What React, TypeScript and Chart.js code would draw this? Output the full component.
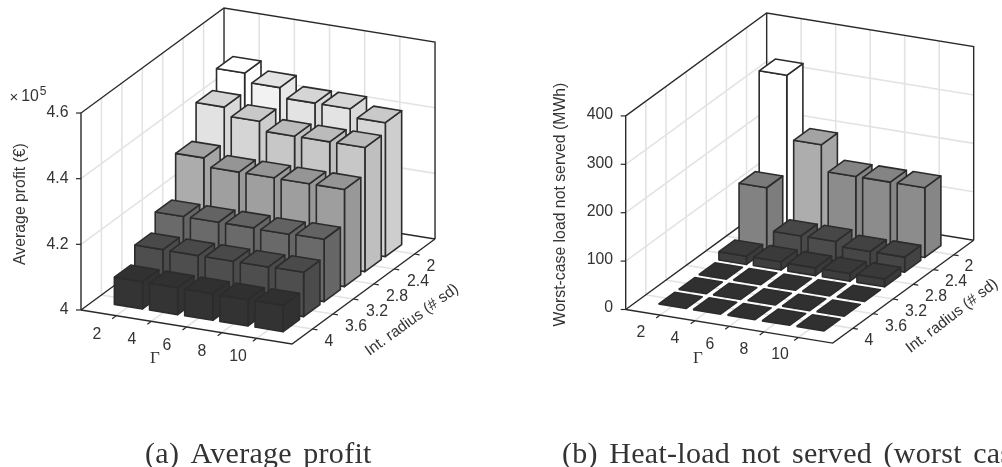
import React, { useEffect, useRef } from "react";
import { Chart, registerables } from "chart.js";

Chart.register(...registerables);

const gammaLabels = ["2", "4", "6", "8", "10"];
const radiusLabels = ["2", "2.4", "2.8", "3.2", "3.6", "4"];
const profitTicks = [4, 4.2, 4.4, 4.6];
const heatTicks = [0, 100, 200, 300, 400];

// rows: radius 2 → 4, columns: Γ 2 → 10
const profitR2 = [4.49, 4.463, 4.433, 4.433, 4.408];
const profitR24 = [4.432, 4.406, 4.378, 4.378, 4.378];
const profitR28 = [4.323, 4.297, 4.297, 4.296, 4.296];
const profitR32 = [4.19, 4.19, 4.19, 4.188, 4.19];
const profitR36 = [4.135, 4.134, 4.134, 4.134, 4.135];
const profitR4 = [4.083, 4.082, 4.081, 4.08, 4.08];

const heatR2 = [330, 198, 144, 144, 144];
const heatR24 = [128, 40, 40, 31, 31];
const heatR28 = [17, 17, 16, 16, 16];
const heatR32 = [0, 0, 0, 0, 0];
const heatR36 = [0, 0, 0, 0, 0];
const heatR4 = [0, 0, 0, 0, 0];

const profitRows = [profitR2, profitR24, profitR28, profitR32, profitR36, profitR4];
const heatRows = [heatR2, heatR24, heatR28, heatR32, heatR36, heatR4];

type Pt = { x: number; y: number };
type Plot = {
  ax: number; ay: number; ux: number; uy: number; wx: number; wy: number;
  zPx: number; zMin: number; zMax: number; rows: number[][]; ticks: number[];
  cMin: number; cMax: number;
};

const W = 1002;
const H = 467;

const plotA: Plot = {
  ax: 81, ay: 310, ux: 35.17, uy: 5.67, wx: 20.43, wy: -15,
  zPx: 328.3, zMin: 4, zMax: 4.6, rows: profitRows, ticks: profitTicks, cMin: 4.08, cMax: 4.49,
};
const plotB: Plot = {
  ax: 625.7, ay: 309.5, ux: 34.5, uy: 5.6, wx: 20.14, wy: -14.7,
  zPx: 0.484, zMin: 0, zMax: 400, rows: heatRows, ticks: heatTicks, cMin: 0, cMax: 330,
};

const GRID = "#e3e3e3";
const AXIS = "#2a2a2a";
const EDGE = "#2c2c2c";

function gray(v: number, k: number) {
  const g = Math.round(v * k);
  return `rgb(${g},${g},${g})`;
}

function buildDatasets(p: Plot) {
  const P = (u: number, w: number, z: number): Pt => ({
    x: p.ax + u * p.ux + w * p.wx,
    y: p.ay + u * p.uy + w * p.wy - (z - p.zMin) * p.zPx,
  });
  const out: any[] = [];
  const line = (pts: Pt[], color: string, width: number) =>
    out.push({
      data: pts, showLine: true, fill: false, borderColor: color, borderWidth: width,
      pointRadius: 0, tension: 0, clip: false, borderCapStyle: "butt",
    });
  const poly = (pts: Pt[], color: string) =>
    out.push({
      data: [...pts, pts[0]], showLine: true, fill: "shape", backgroundColor: color,
      borderColor: EDGE, borderWidth: 1.6, pointRadius: 0, tension: 0, clip: false,
      borderJoinStyle: "round",
    });

  const U = 6, V = 7;
  const zb = p.zMin, zt = p.zMax;
  // grid: left wall, back wall, floor
  for (const z of p.ticks) {
    if (z === zb || z === zt) continue;
    line([P(0, 0, z), P(0, V, z), P(U, V, z)], GRID, 1.6);
  }
  for (let w = 1; w <= 6; w++) {
    line([P(0, w, zt), P(0, w, zb), P(U, w, zb)], GRID, 1.6);
  }
  for (let u = 1; u <= 5; u++) {
    line([P(u, V, zt), P(u, V, zb), P(u, 0, zb)], GRID, 1.6);
  }
  // box
  line([P(0, 0, zb), P(0, 0, zt), P(0, V, zt), P(U, V, zt), P(U, V, zb)], AXIS, 1.4);
  line([P(0, V, zt), P(0, V, zb)], AXIS, 1.4);
  line([P(0, 0, zb), P(0, V, zb), P(U, V, zb)], AXIS, 1.4);
  line([P(0, 0, zb), P(U, 0, zb), P(U, V, zb)], AXIS, 1.4);

  // ticks
  for (const z of p.ticks) {
    const a = P(0, 0, z);
    line([a, { x: a.x - 5, y: a.y }], AXIS, 1.2);
  }
  for (let u = 1; u <= 5; u++) {
    const a = P(u, 0, zb);
    line([a, { x: a.x - 4, y: a.y + 3 }], AXIS, 1.2);
  }
  for (let w = 1; w <= 6; w++) {
    const a = P(U, w, zb);
    line([a, { x: a.x + 5, y: a.y + 0.8 }], AXIS, 1.2);
  }

  // bars, back to front
  const d = 0.4;
  p.rows.forEach((row, r) => {
    const wc = 6 - r;
    row.forEach((val, c) => {
      const uc = c + 1;
      const g = 51 + (Math.max(0, val - p.cMin) / (p.cMax - p.cMin)) * 204;
      const white = g >= 250;
      const u0 = uc - d, u1 = uc + d, w0 = wc - d, w1 = wc + d;
      if (val > zb) {
        poly([P(u1, w0, zb), P(u1, w1, zb), P(u1, w1, val), P(u1, w0, val)], gray(g, white ? 1 : 0.96));
        poly([P(u0, w0, zb), P(u1, w0, zb), P(u1, w0, val), P(u0, w0, val)], gray(g, 1));
      }
      poly([P(u0, w0, val), P(u1, w0, val), P(u1, w1, val), P(u0, w1, val)], gray(g, white ? 1 : 0.94));
    });
  });
  return out;
}

type T = { s: string; x: number; y: number; font: string; rot?: number; align?: CanvasTextAlign; base?: CanvasTextBaseline; caption?: boolean };

const SANS = "15.8px 'Liberation Sans'";
const CAPTION = "30px 'Liberation Serif'";
const TEXTS: T[] = [];
function addLabels(
  zPos: number[], zRight: number,
  gPos: [number, number][], rPos: [number, number][], zText: string[],
) {
  zText.forEach((s, i) => TEXTS.push({ s, x: zRight, y: zPos[i], font: SANS, align: "right" }));
  gammaLabels.forEach((s, i) => TEXTS.push({ s, x: gPos[i][0], y: gPos[i][1], font: SANS }));
  radiusLabels.forEach((s, i) => TEXTS.push({ s, x: rPos[i][0], y: rPos[i][1], font: SANS }));
}
addLabels(
  [310, 245, 179, 113], 68.5,
  [[97, 335], [132, 340], [167, 346], [202, 352], [238, 357]],
  [[431, 267], [418, 282], [397, 297], [377, 312], [356, 327], [329, 342]],
  profitTicks.map((v) => (Number.isInteger(v) ? String(v) : v.toFixed(1))),
);
addLabels(
  [308, 260, 212, 164, 115], 613,
  [[641, 333], [675, 339], [710, 345], [744, 350], [780, 355]],
  [[969, 267], [956, 282], [936, 297], [916, 312], [896, 327], [869, 341]],
  heatTicks.map(String),
);
TEXTS.push(
  { s: "Γ", x: 155, y: 359, font: "17px 'Liberation Serif'" },
  { s: "Γ", x: 698, y: 359, font: "17px 'Liberation Serif'" },
  { s: "Int. radius (# sd)", x: 412, y: 320, rot: -36, font: "15.4px 'Liberation Sans'" },
  { s: "Int. radius (# sd)", x: 952, y: 316, rot: -37.5, font: "15.4px 'Liberation Sans'" },
  { s: "Average profit (€)", x: 21, y: 204, rot: -90, font: SANS },
  { s: "Worst-case load not served (MWh)", x: 561, y: 204.5, rot: -90, font: SANS },
  { s: "×", x: 14, y: 98, font: "15px 'Liberation Sans'" },
  { s: "10", x: 30, y: 97, font: SANS },
  { s: "5", x: 43, y: 91.5, font: "12px 'Liberation Sans'" },
  { s: "(a) Average profit", x: 145, y: 463, font: CAPTION, align: "left", base: "alphabetic", caption: true },
  { s: "(b) Heat-load not served (worst case)", x: 562, y: 463, font: CAPTION, align: "left", base: "alphabetic", caption: true },
);

const textPlugin = {
  id: "plotText",
  afterDatasetsDraw(chart: any) {
    const ctx = chart.ctx as any;
    for (const t of TEXTS) {
      ctx.save();
      ctx.translate(t.x, t.y);
      if (t.rot) ctx.rotate((t.rot * Math.PI) / 180);
      ctx.font = t.font;
      ctx.letterSpacing = t.caption ? "0.3px" : "0px";
      ctx.wordSpacing = t.caption ? "3.5px" : "0px";
      ctx.fillStyle = "#333333";
      ctx.textAlign = t.align ?? "center";
      ctx.textBaseline = t.base ?? "middle";
      ctx.fillText(t.s, 0, 0);
      ctx.restore();
    }
  },
};

export default function App() {
  const ref = useRef<HTMLCanvasElement>(null);
  useEffect(() => {
    const datasets = [...buildDatasets(plotA), ...buildDatasets(plotB)].reverse();
    const chart = new Chart(ref.current!, {
      type: "scatter",
      data: { datasets },
      options: {
        animation: false,
        responsive: false,
        devicePixelRatio: 1,
        layout: { padding: 0 },
        plugins: { legend: { display: false }, tooltip: { enabled: false } },
        events: [],
        scales: {
          x: { type: "linear", min: 0, max: W, display: false },
          y: { type: "linear", min: 0, max: H, reverse: true, display: false },
        },
      },
      plugins: [textPlugin],
    } as any);
    return () => chart.destroy();
  }, []);
  return (
    <div style={{ position: "fixed", left: 0, top: 0, width: W, height: H, background: "#fff", overflow: "hidden" }}>
      <canvas ref={ref} width={W} height={H} style={{ display: "block", width: W, height: H }} />
    </div>
  );
}
